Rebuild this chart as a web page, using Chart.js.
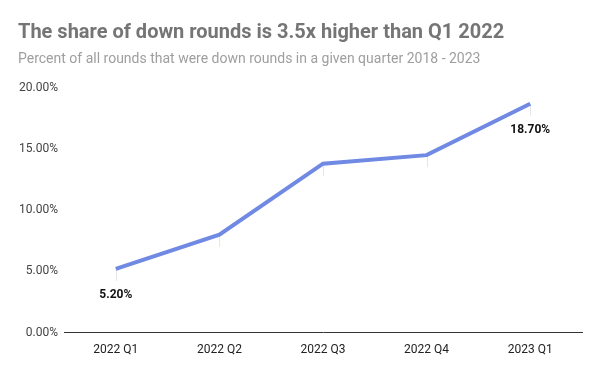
<!DOCTYPE html>
<html><head><meta charset="utf-8">
<script src="https://cdn.jsdelivr.net/npm/chart.js@4/dist/chart.umd.min.js"></script>
<style>html,body{margin:0;padding:0;background:#fff}#wrap{width:600px;height:371px;position:relative}</style>
</head><body><div id="wrap"><canvas id="c" width="600" height="371"></canvas></div>
<script>
const categories = ["2022 Q1","2022 Q2","2022 Q3","2022 Q4","2023 Q1"];
const shareDown = [5.2, 8.0, 13.8, 14.5, 18.7];
const labeledIdx = [0, 4];
const yTicks = [0, 5, 10, 15, 20];

const extras = {
  id: 'extras',
  beforeDatasetsDraw(chart) {
    const ctx = chart.ctx, meta = chart.getDatasetMeta(0);
    ctx.save();
    ctx.strokeStyle = '#e6e6e6'; ctx.lineWidth = 1;
    meta.data.forEach(p => {
      ctx.beginPath(); ctx.moveTo(Math.round(p.x)+0.5, p.y); ctx.lineTo(Math.round(p.x)+0.5, p.y+12); ctx.stroke();
    });
    ctx.restore();
  },
  afterDatasetsDraw(chart) {
    const ctx = chart.ctx, meta = chart.getDatasetMeta(0);
    ctx.save();
    ctx.font = 'bold 12px Roboto'; ctx.fillStyle = '#111';
    ctx.textAlign = 'center'; ctx.textBaseline = 'middle';
    labeledIdx.forEach(i => {
      const p = meta.data[i];
      ctx.fillText(shareDown[i].toFixed(2) + '%', p.x, p.y + 26);
    });
    ctx.restore();
  }
};

new Chart(document.getElementById('c'), {
  type: 'line',
  data: { labels: categories, datasets: [{
    data: shareDown, borderColor: '#7089e3', borderWidth: 4, pointRadius: 0, tension: 0, fill: false
  }]},
  options: {
    responsive: false, animation: false,
    layout: { padding: { left: 18, right: 18, top: 0, bottom: 4 } },
    plugins: {
      legend: { display: false }, tooltip: { enabled: false },
      title: { display: true, text: 'The share of down rounds is 3.5x higher than Q1 2022', align: 'start',
        color: '#757575', font: { family: 'Roboto', size: 20, weight: 'bold' }, padding: { top: 21, bottom: 6 } },
      subtitle: { display: true, text: 'Percent of all rounds that were down rounds in a given quarter 2018 - 2023', align: 'start',
        color: '#9e9e9e', font: { family: 'Roboto', size: 14 }, padding: { bottom: 20 } }
    },
    scales: {
      x: { offset: true, grid: { display: false, drawTicks: false },
        border: { display: true, color: '#333', width: 1 },
        ticks: { color: '#222', font: { family: 'Roboto', size: 12 }, padding: 10 } },
      y: { min: 0, max: 20, afterBuildTicks: s => { s.ticks = yTicks.map(v => ({ value: v })); },
        afterFit: s => { s.width = 46; },
        grid: { display: false, drawTicks: false }, border: { display: false },
        ticks: { color: '#444', font: { family: 'Roboto', size: 12 }, padding: 6, callback: v => v.toFixed(2) + '%' } }
    }
  },
  plugins: [extras]
});
</script></body></html>
